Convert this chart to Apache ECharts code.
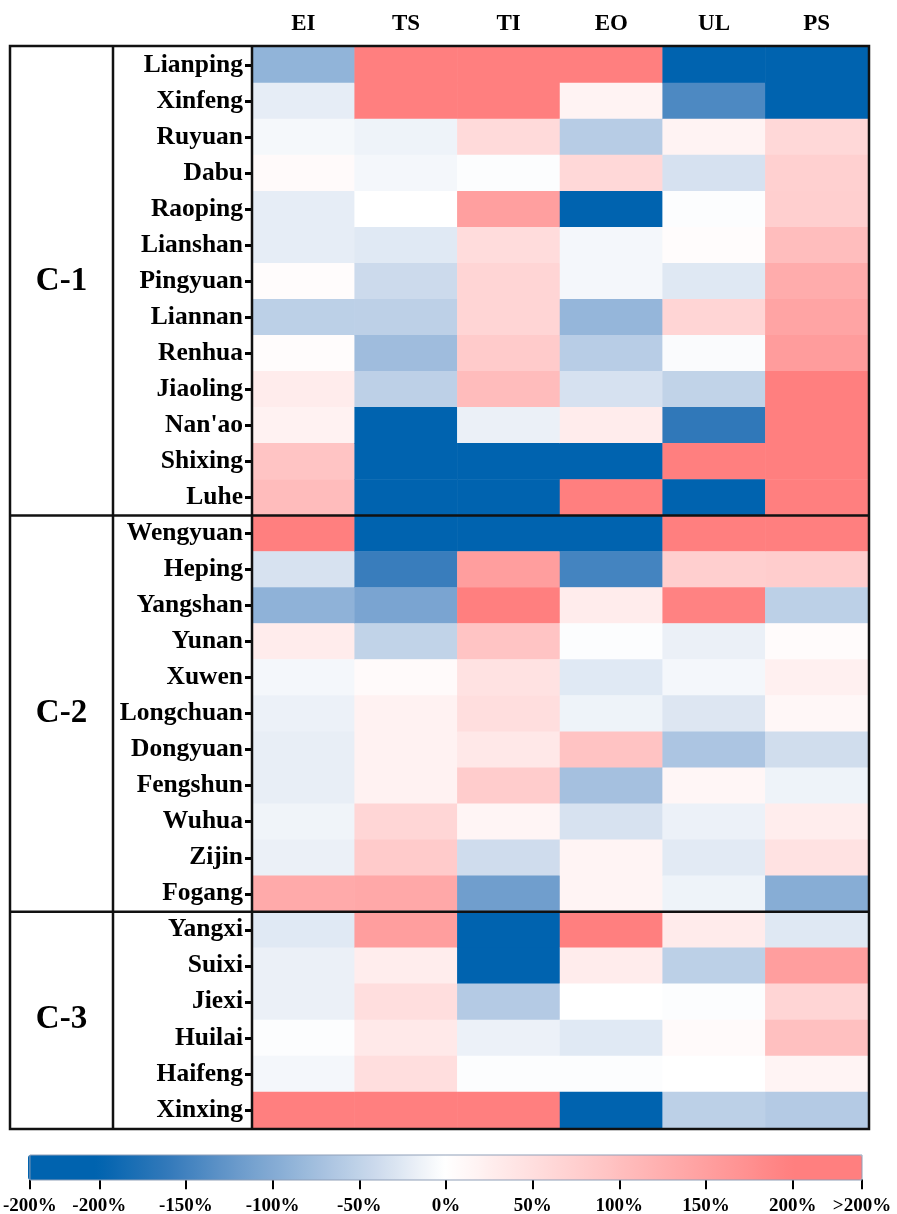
<!DOCTYPE html>
<html>
<head>
<meta charset="utf-8">
<script src="https://cdn.jsdelivr.net/npm/echarts@6/dist/echarts.min.js"></script>
<style>
  html, body { margin: 0; padding: 0; background: #fff; }
  #chart { width: 897px; height: 1214px; }
</style>
</head>
<body>
<div id="chart"></div>
<script>
// Indicators (columns) and counties (rows, top to bottom)
const indicators = ['EI', 'TS', 'TI', 'EO', 'UL', 'PS'];
const counties = [
  'Lianping', 'Xinfeng', 'Ruyuan', 'Dabu', 'Raoping', 'Lianshan', 'Pingyuan',
  'Liannan', 'Renhua', 'Jiaoling', "Nan'ao", 'Shixing', 'Luhe',
  'Wengyuan', 'Heping', 'Yangshan', 'Yunan', 'Xuwen', 'Longchuan', 'Dongyuan',
  'Fengshun', 'Wuhua', 'Zijin', 'Fogang',
  'Yangxi', 'Suixi', 'Jiexi', 'Huilai', 'Haifeng', 'Xinxing'
];
// County clusters, in row order
const groupNames = ['C-1', 'C-2', 'C-3'];
const groupSizes = [13, 11, 6];

// Change rate (%) per indicator, one entry per county
const EI = [-88, -20, -8, 8, -20, -20, 4, -53, 4, 30, 20, 92, 105,
            250, -31, -90, 30, -9, -15, -18, -18, -12, -16, 133,
            -24, -16, -16, -2, -9, 250];
const TS = [250, 250, -13, -9, 0, -24, -40, -52, -77, -52, -250, -250, -250,
            -250, -155, -107, -49, 8, 20, 20, 20, 64, 81, 136,
            152, 27, 52, 34, 52, 250];
const TI = [250, 250, 58, -2, 150, 55, 66, 66, 81, 105, -16, -250, -250,
            -250, 152, 210, 92, 45, 52, 36, 80, 16, -38, -115,
            -250, -250, -60, -15, -2, 200];
const EO = [250, 19, -57, 61, -250, -9, -9, -85, -56, -32, 30, -250, 250,
            -250, -147, 30, -2, -24, -13, 94, -72, -31, 17, 17,
            220, 30, 0, -24, -2, -250];
const UL = [-250, -141, 19, -32, -2, 4, -25, 66, -4, -49, -162, 250, -250,
            250, 75, 195, -16, -9, -27, -66, 14, -15, -23, -13,
            31, -53, -2, 8, 0, -53];
const PS = [-250, -250, 61, 73, 75, 103, 130, 142, 156, 250, 250, 250, 250,
            250, 78, -53, 6, 23, 12, -37, -13, 27, 45, -96,
            -25, 152, 66, 98, 17, -60];

// Colour bar ticks and their labels
const colorbarTicks = [-240, -200, -150, -100, -50, 0, 50, 100, 150, 200, 240];
const colorbarLabels = ['-200%', '-200%', '-150%', '-100%', '-50%', '0%',
                        '50%', '100%', '150%', '200%', '>200%'];

(function () {
  const columns = [EI, TS, TI, EO, UL, PS];
  const cells = [];
  columns.forEach((col, ci) => col.forEach((v, ri) => cells.push([ci, ri, v])));

  const FONT = "'Liberation Serif', 'Times New Roman', serif";
  const labelStyle = { fontFamily: FONT, fontWeight: 'bold', color: '#000' };

  const chart = echarts.init(document.getElementById('chart'), null, { renderer: 'canvas' });

  chart.setOption({
    animation: false,
    backgroundColor: '#fff',
    grid: [
      { left: 252, top: 47, width: 616, height: 1081 },
      { left: 28, top: 1179, width: 834, height: 1 }
    ],
    xAxis: [
      {
        gridIndex: 0, type: 'category', data: indicators, position: 'top',
        axisLine: { show: false }, axisTick: { show: false }, splitLine: { show: false },
        axisLabel: Object.assign({ fontSize: 23, margin: 11 }, labelStyle)
      },
      {
        gridIndex: 1, type: 'value', min: -240, max: 240,
        axisLine: { show: false }, splitLine: { show: false },
        axisTick: { show: true, length: 10, customValues: colorbarTicks,
                    lineStyle: { color: '#000', width: 2 } },
        axisLabel: Object.assign({
          customValues: colorbarTicks, fontSize: 19, margin: 17,
          formatter: v => colorbarLabels[colorbarTicks.indexOf(v)]
        }, labelStyle)
      }
    ],
    yAxis: [
      {
        gridIndex: 0, type: 'category', data: counties, inverse: true,
        axisLine: { show: false }, splitLine: { show: false },
        axisTick: { show: true, length: 7, alignWithLabel: true,
                    lineStyle: { color: '#000', width: 3 } },
        axisLabel: Object.assign({ interval: 0, fontSize: 25.5, margin: 9 }, labelStyle)
      },
      { gridIndex: 1, type: 'value', show: false }
    ],
    visualMap: {
      type: 'continuous',
      seriesIndex: 0,
      min: -240, max: 240,
      orient: 'horizontal',
      left: 28, top: 1155,
      itemWidth: 25, itemHeight: 834,
      padding: 0,
      calculable: false,
      hoverLink: false,
      text: null,
      inRange: {
        color: ['#0063AF', '#0063AF', '#3279BA', '#6A9ACB', '#9BBADC', '#CCDAEC',
                '#FFFFFF',
                '#FFE5E5', '#FFCCCC', '#FFB2B2', '#FF9999', '#FF7F7F', '#FF7F7F']
      }
    },
    series: [{
      type: 'heatmap',
      xAxisIndex: 0, yAxisIndex: 0,
      data: cells,
      itemStyle: { borderWidth: 0 },
      emphasis: { disabled: true }
    }]
  });

  // Table frame, cluster dividers and cluster names, placed from the heatmap axes
  const FRAME_LEFT = 10;
  const NAME_DIVIDER = 113;
  const px = (ci, ri) => chart.convertToPixel({ gridIndex: 0 }, [ci, ri]);
  const p00 = px(0, 0), p11 = px(1, 1);
  const bw = p11[0] - p00[0], bh = p11[1] - p00[1];
  const gLeft = p00[0] - bw / 2, gTop = p00[1] - bh / 2;
  const gRight = px(indicators.length - 1, 0)[0] + bw / 2;
  const gBottom = px(0, counties.length - 1)[1] + bh / 2;

  const lineStyle = { stroke: '#111', lineWidth: 2.5 };
  const graphics = [
    { type: 'rect', z: 100,
      shape: { x: FRAME_LEFT, y: gTop - 1, width: gRight - FRAME_LEFT + 1, height: gBottom - gTop + 2 },
      style: { fill: 'none', stroke: '#111', lineWidth: 2.5 } },
    { type: 'line', z: 100, shape: { x1: NAME_DIVIDER, y1: gTop, x2: NAME_DIVIDER, y2: gBottom }, style: lineStyle },
    { type: 'line', z: 100, shape: { x1: gLeft, y1: gTop, x2: gLeft, y2: gBottom }, style: lineStyle }
  ];
  let start = 0;
  groupSizes.forEach((size, gi) => {
    const yMid = gTop + (start + size / 2) * bh;
    graphics.push({
      type: 'text', z: 100, x: (FRAME_LEFT + NAME_DIVIDER) / 2, y: yMid,
      style: { text: groupNames[gi], font: "bold 33px 'Liberation Serif', serif", fill: '#000',
               align: 'center', verticalAlign: 'middle', textAlign: 'center', textVerticalAlign: 'middle' }
    });
    start += size;
    if (start < counties.length) {
      const y = gTop + start * bh;
      graphics.push({ type: 'line', z: 100, shape: { x1: FRAME_LEFT, y1: y, x2: gRight, y2: y }, style: lineStyle });
    }
  });
  // Thin outline round the colour bar
  const cbLeft = chart.convertToPixel({ xAxisIndex: 1 }, -240);
  const cbRight = chart.convertToPixel({ xAxisIndex: 1 }, 240);
  graphics.push({ type: 'rect', z: 100, shape: { x: cbLeft, y: 1155, width: cbRight - cbLeft, height: 25 },
                  style: { fill: 'none', stroke: '#8f9fb8', lineWidth: 1 } });

  chart.setOption({ graphic: graphics });
})();
</script>
</body>
</html>
